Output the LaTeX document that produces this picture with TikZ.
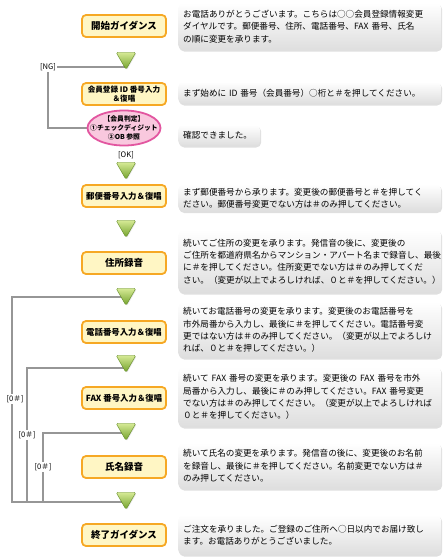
\documentclass[tikz,border=0pt]{standalone}
\usepackage{fontspec}
\setmainfont{Noto Sans CJK JP}
\usetikzlibrary{positioning,shapes,shadows,backgrounds}
\definecolor{boxfill}{RGB}{255,246,196}
\definecolor{boxline}{RGB}{246,168,36}
\definecolor{pinkfill}{RGB}{249,200,222}
\definecolor{pinkline}{RGB}{226,86,160}
\definecolor{arrtop}{RGB}{214,234,150}
\definecolor{arrbot}{RGB}{112,160,40}
\definecolor{flowgray}{RGB}{150,150,150}

\begin{document}
\begin{tikzpicture}[x=1pt,y=-1pt,
  stage/.style={draw=boxline,line width=1.8pt,fill=boxfill,rounded corners=4pt,
    minimum width=84pt,minimum height=22pt,inner sep=0pt,align=center,
    font=\bfseries\fontsize{9.5}{10}\selectfont},
  tight/.style={font=\bfseries\fontsize{8.4}{9}\selectfont},
  judge/.style={ellipse,draw=pinkline,line width=1.8pt,fill=pinkfill,
    minimum width=73pt,minimum height=35pt,inner xsep=-12pt,inner ysep=-5pt,
    align=center,font=\bfseries\fontsize{6.8}{9.3}\selectfont},
  talk/.style={anchor=west,rounded corners=5pt,top color=white,bottom color=black!13,
    drop shadow={opacity=0.25,shadow xshift=1pt,shadow yshift=-1.5pt},
    text width=253pt,inner xsep=5pt,inner ysep=2pt,align=left,
    font=\fontsize{8.6}{12.3}\selectfont},
  tri/.style={regular polygon,regular polygon sides=3,shape border rotate=180,
    minimum size=23pt,inner sep=0pt,rounded corners=1.5pt,
    top color=arrtop,bottom color=arrbot,draw=arrbot!85!black,line width=0.4pt,
    drop shadow={opacity=0.2,shadow xshift=0.8pt,shadow yshift=-0.8pt}},
  cond/.style={fill=white,inner sep=1pt,font=\fontsize{7.6}{8}\selectfont},
  flow/.style={draw=flowgray,line width=1.6pt}]
\useasboundingbox (0,0) rectangle (444,560);

\node[stage] (start) at (124,26) {開始ガイダンス};
\node[stage,font=\bfseries\fontsize{7.6}{9}\selectfont] (id) at (124,94) {会員登録 ID 番号入力\\＆復唱};
\node[judge] (judge) at (124,128) {【会員判定】\\①チェックディジット\\②OB 参照};
\node[stage,tight] (zip) at (124,196) {郵便番号入力＆復唱};
\node[stage] (addr) at (124,263) {住所録音};
\node[stage,tight] (tel) at (124,332) {電話番号入力＆復唱};
\node[stage,tight] (fax) at (124,398) {FAX 番号入力＆復唱};
\node[stage] (name) at (124,467) {氏名録音};
\node[stage] (fin) at (124,535) {終了ガイダンス};

\node[tri] (a1) at (126,58) {};
\node[tri] (a2) at (126,168) {};
\node[tri] (a3) at (126,226) {};
\node[tri] (a4) at (126,294) {};
\node[tri] (a5) at (126,361) {};
\node[tri] (a6) at (126,429) {};
\node[tri] (a7) at (126,498) {};

\node[talk,minimum height=47pt] (s1) at (178,26.5) {お電話ありがとうございます。こちらは○○会員登録情報変更\\ダイヤルです。郵便番号、住所、電話番号、FAX 番号、氏名\\の順に変更を承ります。};
\node[talk,minimum height=22pt] (s2) at (178,93) {まず始めに ID 番号（会員番号）○桁と＃を押してください。};
\node[talk,text width=72pt,minimum height=21pt] (s3) at (178,135.5) {確認できました。};
\node[talk,minimum height=27pt] (s4) at (178,198) {まず郵便番号から承ります。変更後の郵便番号と＃を押してく\\ださい。郵便番号変更でない方は＃のみ押してください。};
\node[talk,minimum height=63pt] (s5) at (178,261.5) {続いてご住所の変更を承ります。発信音の後に、変更後の\\ご住所を都道府県名からマンション・アパート名まで録音し、最後\\に＃を押してください。住所変更でない方は＃のみ押してくだ\\さい。（変更が以上でよろしければ、０と＃を押してください。）};
\node[talk,minimum height=56pt] (s6) at (178,330) {続いてお電話番号の変更を承ります。変更後のお電話番号を\\市外局番から入力し、最後に＃を押してください。電話番号変\\更ではない方は＃のみ押してください。（変更が以上でよろしけ\\れば、０と＃を押してください。）};
\node[talk,minimum height=60pt] (s7) at (178,397) {続いて FAX 番号の変更を承ります。変更後の FAX 番号を市外\\局番から入力し、最後に＃のみ押してください。FAX 番号変更\\でない方は＃のみ押してください。（変更が以上でよろしければ\\０と＃を押してください。）};
\node[talk,minimum height=46pt] (s8) at (178,466) {続いて氏名の変更を承ります。発信音の後に、変更後のお名前\\を録音し、最後に＃を押してください。名前変更でない方は＃\\のみ押してください。};
\node[talk,minimum height=40pt] (s9) at (178,535) {ご注文を承りました。ご登録のご住所へ○日以内でお届け致し\\ます。お電話ありがとうございました。};

\node[cond] (ng) at (48,67) {[NG]};
\node[cond,fill=none] (ok) at (126,155) {[OK]};
\node[cond] (z1) at (15,399) {[0＃]};
\node[cond] (z2) at (27,435) {[0＃]};
\node[cond] (z3) at (43,467) {[0＃]};

\coordinate (k1) at (12,297);
\coordinate (k2) at (27,368);
\coordinate (k3) at (43,433);
\coordinate (kb) at (12,502);
\begin{scope}[on background layer]
  \draw[flow] (ng.east) -- (ng.east -| a1);
  \draw[flow] (ng.south) |- (judge.west);
  \draw[flow] (k1 -| a4) -- (k1) -- (kb) -- (kb -| a7);
  \draw[flow] (k2 -| a5) -- (k2) -- (k2 |- kb);
  \draw[flow] (k3 -| a6) -- (k3) -- (k3 |- kb);
\end{scope}
\end{tikzpicture}
\end{document}
